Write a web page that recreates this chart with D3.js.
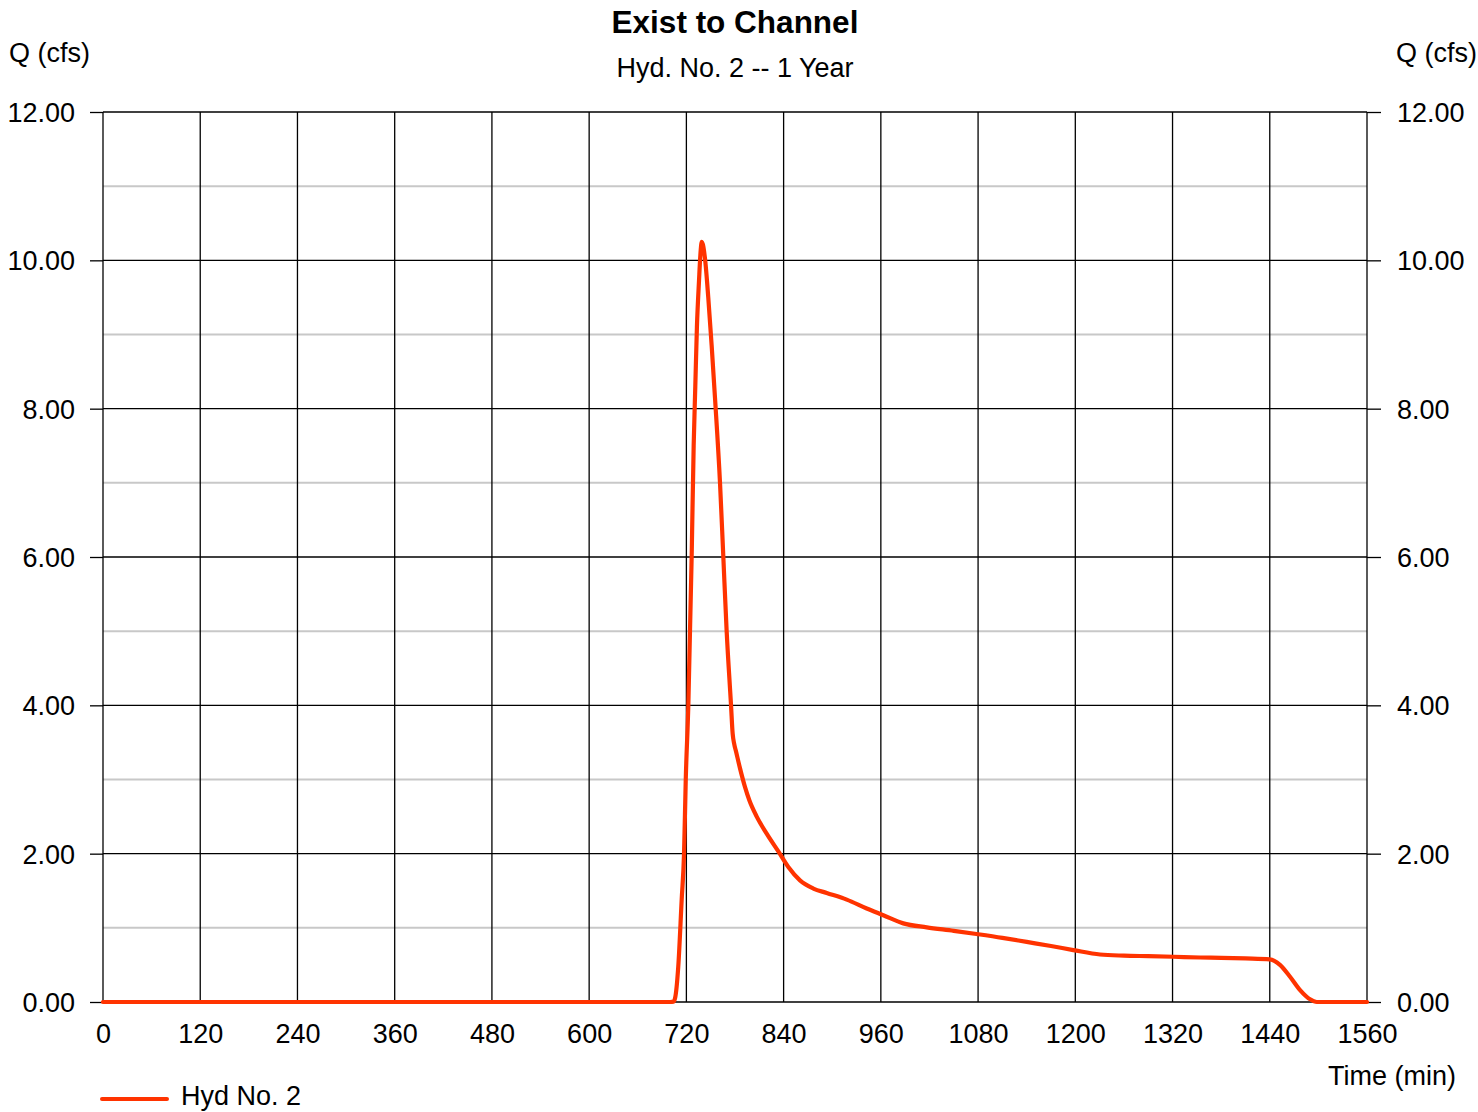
<!DOCTYPE html>
<html>
<head>
<meta charset="utf-8">
<script src="https://cdn.jsdelivr.net/npm/d3@7"></script>
<style>
  html, body { margin: 0; padding: 0; background: #fff; }
  svg { display: block; font-family: "Liberation Sans", Arial, sans-serif; }
  .tick text { font-size: 27px; fill: #000; }
</style>
</head>
<body>
<svg id="chart" width="1478" height="1112"></svg>
<script>
// ---- data ----
const titleText = "Exist to Channel";
const subtitleText = "Hyd. No. 2 -- 1 Year";
const yAxisLabel = "Q (cfs)";
const xAxisLabel = "Time (min)";
const seriesName = "Hyd No. 2";

const xTicks = [0, 120, 240, 360, 480, 600, 720, 840, 960, 1080, 1200, 1320, 1440, 1560];
const yMajorTicks = [0, 2, 4, 6, 8, 10, 12];
const yMinorTicks = [1, 3, 5, 7, 9, 11];

const timeMin = [0, 600, 700, 704, 706, 710, 714.2, 717.1, 719.2, 722.4, 726.5, 729, 731, 733, 735.6, 737.7, 739,
  743, 747, 751.2, 755.3, 761.5, 765.6, 769.7, 775.1, 777.1, 779, 781.2, 786.2, 792.3, 797.7, 806.8, 819.1,
  833.5, 845.8, 860.2, 876.7, 893.2, 917.9, 942.6, 963, 987.7, 1016.6, 1050, 1078, 1110, 1140, 1170, 1197.6,
  1230.5, 1260, 1290, 1321, 1354, 1380, 1410, 1440, 1452.6, 1465, 1477.4, 1489.7, 1498, 1530, 1560];
const flowCfs = [0, 0, 0, 0.005, 0.05, 0.48, 1.38, 2.0, 2.99, 4.0, 6.0, 7.5, 8.3, 9.1, 9.73, 10.14, 10.25,
  10.02, 9.5, 8.85, 8.15, 7.0, 6.0, 5.0, 4.0, 3.62, 3.48, 3.38, 3.15, 2.90, 2.72, 2.50, 2.27,
  2.03, 1.82, 1.64, 1.53, 1.47, 1.38, 1.26, 1.17, 1.06, 1.007, 0.96, 0.917, 0.865, 0.81, 0.755, 0.70,
  0.64, 0.625, 0.618, 0.61, 0.60, 0.595, 0.587, 0.576, 0.50, 0.34, 0.16, 0.036, 0.0, 0.0, 0.0];

// ---- chart ----
const svg = d3.select("#chart");
const plotL = 103, plotR = 1367, plotT = 112, plotB = 1002;
const x = d3.scaleLinear().domain([0, 1560]).range([plotL, plotR]);
const y = d3.scaleLinear().domain([0, 12]).range([plotB, plotT]);

// minor horizontal grid
svg.append("g").selectAll("line").data(yMinorTicks).join("line")
  .attr("x1", plotL).attr("x2", plotR)
  .attr("y1", d => y(d)).attr("y2", d => y(d))
  .attr("stroke", "#c8c8c8").attr("stroke-width", 2);

// major horizontal grid
svg.append("g").selectAll("line").data(yMajorTicks).join("line")
  .attr("x1", plotL).attr("x2", plotR)
  .attr("y1", d => y(d)).attr("y2", d => y(d))
  .attr("stroke", "#000").attr("stroke-width", 1.3);

// vertical grid
svg.append("g").selectAll("line").data(xTicks).join("line")
  .attr("x1", d => x(d)).attr("x2", d => x(d))
  .attr("y1", plotT).attr("y2", plotB)
  .attr("stroke", "#000").attr("stroke-width", 1.3);

// axes
const fmt = d3.format(".2f");
const leftAxis = svg.append("g").attr("transform", `translate(${plotL},0)`)
  .call(d3.axisLeft(y).tickValues(yMajorTicks).tickFormat(fmt).tickSize(13).tickPadding(15));
const rightAxis = svg.append("g").attr("transform", `translate(${plotR},0)`)
  .call(d3.axisRight(y).tickValues(yMajorTicks).tickFormat(fmt).tickSize(14).tickPadding(16));
const bottomAxis = svg.append("g").attr("transform", `translate(0,${plotB})`)
  .call(d3.axisBottom(x).tickValues(xTicks).tickFormat(d3.format("d")).tickSize(0).tickPadding(22));
[leftAxis, rightAxis, bottomAxis].forEach(g => {
  g.select(".domain").remove();
  g.attr("font-family", null).attr("font-size", null);
  g.selectAll(".tick line").attr("stroke", "#000").attr("stroke-width", 1.3);
});
leftAxis.selectAll(".tick text").attr("dy", "0.35em");
rightAxis.selectAll(".tick text").attr("dy", "0.35em");

// series line
const pts = timeMin.map((t, i) => [t, flowCfs[i]]);
const line = d3.line().x(d => x(d[0])).y(d => y(d[1])).curve(d3.curveMonotoneX);
svg.append("path").datum(pts)
  .attr("d", line)
  .attr("fill", "none")
  .attr("stroke", "#ff3300")
  .attr("stroke-width", 4.2)
  .attr("stroke-linejoin", "round")
  .attr("stroke-linecap", "round");

// titles
svg.append("text").attr("x", 735).attr("y", 33).attr("text-anchor", "middle")
  .attr("font-size", 31.5).attr("font-weight", "bold").text(titleText);
svg.append("text").attr("x", 735).attr("y", 77).attr("text-anchor", "middle")
  .attr("font-size", 27).text(subtitleText);
svg.append("text").attr("x", 9).attr("y", 62).attr("font-size", 27).text(yAxisLabel);
svg.append("text").attr("x", 1477).attr("y", 62).attr("text-anchor", "end").attr("font-size", 27).text(yAxisLabel);
svg.append("text").attr("x", 1456).attr("y", 1085).attr("text-anchor", "end").attr("font-size", 27).text(xAxisLabel);

// legend
svg.append("line").attr("x1", 102).attr("x2", 167).attr("y1", 1099).attr("y2", 1099)
  .attr("stroke", "#ff3300").attr("stroke-width", 4).attr("stroke-linecap", "round");
svg.append("text").attr("x", 181).attr("y", 1105).attr("font-size", 27).text(seriesName);
</script>
</body>
</html>
